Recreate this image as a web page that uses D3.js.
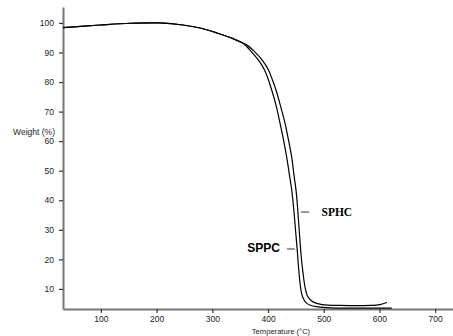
<!DOCTYPE html>
<html>
<head>
<meta charset="utf-8">
<script src="https://cdn.jsdelivr.net/npm/d3@7"></script>
<style>
    body { margin: 0; background: #fff; }
    svg { display: block; font-family: "Liberation Sans", Arial, sans-serif; }
</style>
</head>
<body>
<div id="chart"></div>
<script>
// temperature (°C) / weight (%)
const sppcTemp = [32, 98.4, 152.3, 206.1, 247.4, 277.9, 308.4, 337.1, 356.9, 367.6, 382.9, 393.7, 400.8, 406.6, 414.3, 421.5, 427.8, 433.5, 438.5, 442.5, 446.3, 449.8, 452.4, 454.7, 457.4, 460.1, 463.7, 469.1, 477.2, 489.8, 511.3, 547.2, 622];
const sppcWeight = [98.4, 99.3, 99.9, 100.0, 99.3, 98.3, 96.6, 94.7, 92.9, 90.8, 87.4, 84.1, 80.7, 77.3, 72.2, 66.1, 60.4, 54.6, 48.5, 43.5, 36.7, 28.9, 23.2, 17.4, 12.0, 8.6, 6.6, 5.2, 4.4, 3.9, 3.6, 3.5, 3.5];

const sphcTemp = [32, 98.4, 152.3, 206.1, 247.4, 277.9, 308.4, 337.1, 342.5, 362.3, 373.0, 389.2, 400.8, 408.0, 414.3, 422.0, 430.5, 436.7, 442.5, 446.6, 450.2, 453.4, 456.3, 460.1, 462.8, 466.4, 470.8, 477.2, 486.1, 496.9, 529.2, 583.0, 601.0, 613.5];
const sphcWeight = [98.4, 99.3, 99.9, 100.0, 99.3, 98.3, 96.6, 94.7, 94.2, 92.5, 90.8, 87.5, 84.1, 80.7, 77.3, 72.2, 66.1, 60.4, 54.6, 48.5, 43.5, 36.7, 28.9, 19.8, 15.4, 10.6, 7.6, 6.1, 5.2, 4.7, 4.4, 4.4, 4.7, 5.4];

const xTicks = [100, 200, 300, 400, 500, 600, 700];
const yTicks = [10, 20, 30, 40, 50, 60, 70, 80, 90, 100];

// label text, anchor temp/weight, leader line from/to temp
const labels = [
    { name: "SPHC", t: 496, w: 34.7, anchor: "start", font: "'Liberation Serif', 'Times New Roman', serif", size: 11.5, dash: [459, 474], dashW: 36.0 },
    { name: "SPPC", t: 421.5, w: 22.4, anchor: "end", font: "'Liberation Sans', Arial, sans-serif", size: 12, dash: [434, 448], dashW: 23.5 }
];

const width = 453;
const height = 336;
const margin = { top: 7, right: 0, bottom: 27, left: 63 };

const svg = d3
    .select("#chart")
    .append("svg")
    .attr("width", width)
    .attr("height", height);

const xScale = d3
    .scaleLinear()
    .domain([32, 732])
    .range([margin.left, margin.left + 390]);

const yScale = d3
    .scaleLinear()
    .domain([3.2, 105.4])
    .range([height - margin.bottom, margin.top]);

const xAxis = d3.axisBottom(xScale).tickValues(xTicks).tickSize(4).tickSizeOuter(0).tickPadding(3);
const yAxis = d3.axisLeft(yScale).tickValues(yTicks).tickSize(4).tickSizeOuter(0).tickPadding(5);

const gx = svg.append("g")
    .attr("transform", `translate(0, ${height - margin.bottom})`)
    .call(xAxis);

const gy = svg.append("g")
    .attr("transform", `translate(${margin.left}, 0)`)
    .call(yAxis);

[gx, gy].forEach(g => {
    g.select(".domain").attr("stroke", "#777").attr("stroke-width", 2);
    g.selectAll(".tick line").attr("stroke", "#333").attr("stroke-width", 1.2);
    g.selectAll(".tick text")
        .attr("fill", "#222")
        .style("font-family", "'Liberation Sans', Arial, sans-serif")
        .style("font-size", "8.5px");
});

// axis titles
svg.append("text")
    .attr("x", 55)
    .attr("y", 135)
    .attr("text-anchor", "end")
    .attr("fill", "#222")
    .style("font-size", "8.5px")
    .text("Weight (%)");

svg.append("text")
    .attr("x", 281)
    .attr("y", 334)
    .attr("text-anchor", "middle")
    .attr("fill", "#222")
    .style("font-size", "7.6px")
    .text("Temperature (°C)");

// curves
const line = d3.line()
    .x(d => xScale(d[0]))
    .y(d => yScale(d[1]))
    .curve(d3.curveCatmullRom.alpha(0.5));

const series = [
    d3.zip(sppcTemp, sppcWeight),
    d3.zip(sphcTemp, sphcWeight)
];

svg.selectAll(".curve")
    .data(series)
    .enter()
    .append("path")
    .attr("class", "curve")
    .attr("d", line)
    .attr("fill", "none")
    .attr("stroke", "#000")
    .attr("stroke-width", 1.2);

// labels with leader dashes
labels.forEach(l => {
    svg.append("line")
        .attr("x1", xScale(l.dash[0]))
        .attr("x2", xScale(l.dash[1]))
        .attr("y1", yScale(l.dashW))
        .attr("y2", yScale(l.dashW))
        .attr("stroke", "#333")
        .attr("stroke-width", 1);

    svg.append("text")
        .attr("x", xScale(l.t))
        .attr("y", yScale(l.w))
        .attr("text-anchor", l.anchor)
        .style("font-family", l.font)
        .style("font-size", l.size + "px")
        .style("font-weight", "bold")
        .text(l.name);
});
</script>
</body>
</html>
